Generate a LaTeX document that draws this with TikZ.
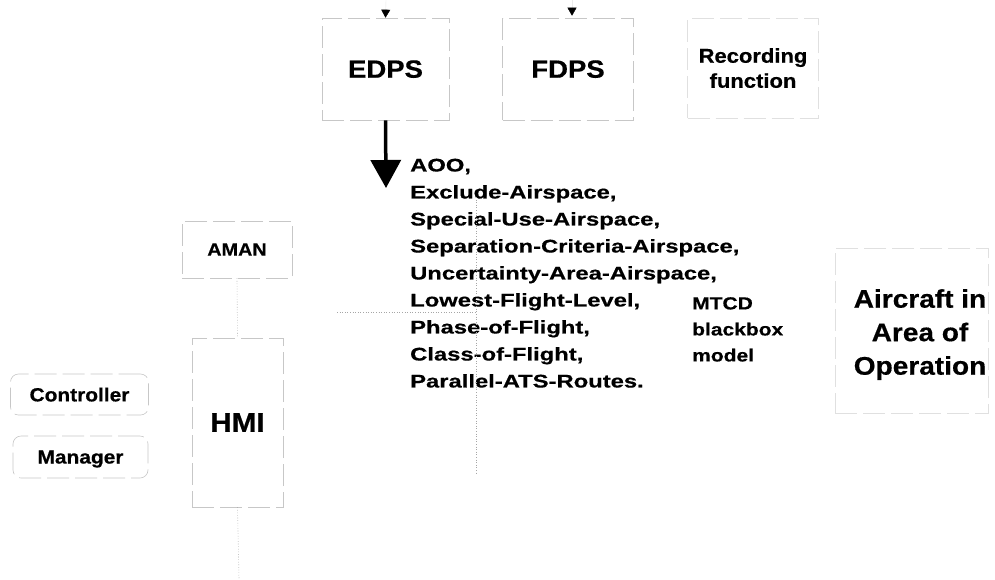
\documentclass[tikz,border=0pt]{standalone}
\usepackage{fontspec}
\setmainfont{Liberation Sans}
\newfontfamily\blockfont[FakeStretch=1.3, FakeBold=0.5]{Liberation Sans Bold}
\newfontfamily\labfont[FakeStretch=1.1, FakeBold=0.5]{Liberation Sans Bold}
\newfontfamily\mtcdfont[FakeStretch=1.2, FakeBold=0.5]{Liberation Sans Bold}
\usetikzlibrary{arrows.meta}
\begin{document}
\begin{tikzpicture}[x=1pt,y=-1pt,
  box/.style={draw=black!22, line width=0.6pt, dash pattern=on 22pt off 6pt,
    inner sep=0pt, text depth=0pt, align=center},
  faintbox/.style={box, draw=black!12},
  conn/.style={draw=black!35, line width=0.6pt, dotted},
  tri/.style={draw=black!8, line width=0.4pt, -{Triangle[width=9pt,length=8pt,color=black]}},
  bigarrow/.style={draw=black, line width=3.5pt, -{Triangle[width=30pt,length=28pt]}}
]
\useasboundingbox[fill=white] (0,0) rectangle (995,579);

% top boxes
\node[box, minimum width=127pt, minimum height=102pt,
  font=\labfont\fontsize{25}{30}\selectfont] (edps) at (385.5,69) {EDPS};
\node[box, minimum width=131pt, minimum height=102pt,
  font=\labfont\fontsize{25}{30}\selectfont] (fdps) at (568,69) {FDPS};
\node[faintbox, minimum width=131pt, minimum height=100pt,
  font=\labfont\fontsize{20}{25}\selectfont] (rec) at (753,68) {Recording\\function};

% incoming arrowheads
\coordinate (in1) at (386,0);
\coordinate (in2) at (572,0);
\draw[tri] (in1) -- (edps.north);
\draw[tri] (in2) -- ([yshift=2pt]in2 |- fdps.north);

% big arrow
\coordinate (arrtip) at (386,188);
\draw[bigarrow] (edps.south) -- (arrtip);

% parameter list
\node[anchor=north west, inner sep=0pt, align=left,
  font=\blockfont\fontsize{18.3}{27}\selectfont] (params) at (410,158.5)
  {AOO,\\Exclude-Airspace,\\Special-Use-Airspace,\\Separation-Criteria-Airspace,\\Uncertainty-Area-Airspace,\\Lowest-Flight-Level,\\Phase-of-Flight,\\Class-of-Flight,\\Parallel-ATS-Routes.};

% MTCD
\node[anchor=north west, inner sep=0pt, align=left,
  font=\mtcdfont\fontsize{17.5}{26}\selectfont] (mtcd) at (692,297)
  {MTCD\\blackbox\\model};

% aircraft
\node[faintbox, minimum width=153pt, minimum height=165pt] (aoobox) at (911.5,330.5) {};
\node[anchor=north, inner sep=0pt, align=center,
  font=\labfont\fontsize{25.5}{33.5}\selectfont] (aircraft) at (920,289)
  {Aircraft in\\Area of\\Operation};

% left side
\node[box, minimum width=110pt, minimum height=57pt,
  font=\labfont\fontsize{18}{22}\selectfont] (aman) at (237,249.5) {AMAN};
\node[box, minimum width=91pt, minimum height=169pt,
  font=\labfont\fontsize{27}{32}\selectfont] (hmi) at (237.5,422.5) {HMI};
\node[box, rounded corners=8pt, minimum width=138pt, minimum height=41pt,
  font=\labfont\fontsize{19}{23}\selectfont] (ctrl) at (79.5,394.5) {Controller};
\node[box, rounded corners=8pt, minimum width=135pt, minimum height=42pt,
  font=\labfont\fontsize{19}{23}\selectfont] (mgr) at (80.5,457) {Manager};

% faint connectors
\draw[conn] (aman.south) -- (hmi.north);
\coordinate (hmiout) at (239,579);
\draw[conn] (hmi.south) -- (hmiout);
\coordinate (vtop) at (476,197);
\coordinate (vbot) at (476,475);
\coordinate (hleft) at (337,312);
\coordinate (hright) at (476,312);
\draw[conn] (vtop) -- (vbot);
\draw[conn] (hleft) -- (hright);
\end{tikzpicture}
\end{document}
